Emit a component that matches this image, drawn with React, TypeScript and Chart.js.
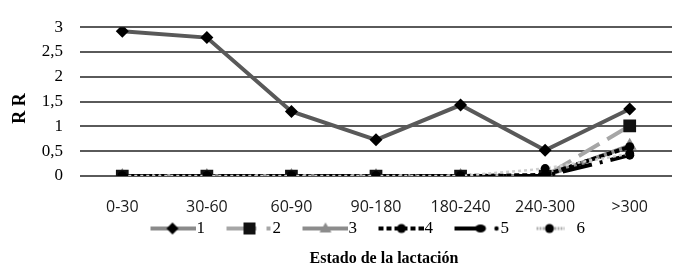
import React, { useEffect, useRef } from 'react';
import { Chart, registerables } from 'chart.js';

Chart.register(...registerables);

const categories = ['0-30', '30-60', '60-90', '90-180', '180-240', '240-300', '>300'];
const series1 = [2.92, 2.79, 1.3, 0.73, 1.43, 0.52, 1.35];
const series2 = [0, 0, 0, 0, 0, 0, 1.01];
const series3 = [0, 0, 0, 0, 0, 0, 0.61];
const series4 = [0, 0, 0, 0, 0, 0.02, 0.59];
const series5 = [0, 0, 0, 0, 0, 0, 0.42];
const series6 = [0, 0, 0, 0, 0, 0.15, 0.45];
const seriesNames = ['1', '2', '3', '4', '5', '6'];
const yMin = 0;
const yMax = 3;
const yStep = 0.5;
const xTitle = 'Estado de la lactación';
const yTitle = 'R R';

const SERIF = '"Liberation Serif", "Times New Roman", serif';
const BOX_W = 55;
const IMG_W = 70;
const SAMPLE_LEN = 45;

function makeSample(kind: number): HTMLCanvasElement {
  const c = document.createElement('canvas');
  c.width = IMG_W;
  c.height = 16;
  const g = c.getContext('2d')!;
  g.translate(IMG_W - SAMPLE_LEN, 0);
  const my = 8;
  g.lineWidth = 4;
  const line = (x0: number, x1: number, color: string, dash: number[] = [], w = 4) => {
    g.save();
    g.strokeStyle = color;
    g.lineWidth = w;
    g.setLineDash(dash);
    g.beginPath();
    g.moveTo(x0, my);
    g.lineTo(x1, my);
    g.stroke();
    g.restore();
  };
  const circle = (x: number, r: number, color = '#000') => {
    g.fillStyle = color;
    g.beginPath();
    g.arc(x, my, r, 0, Math.PI * 2);
    g.fill();
  };
  if (kind === 0) {
    line(0, 45, '#8a8a8a');
    g.fillStyle = '#000';
    g.beginPath();
    g.moveTo(22, my - 6);
    g.lineTo(28, my);
    g.lineTo(22, my + 6);
    g.lineTo(16, my);
    g.closePath();
    g.fill();
  } else if (kind === 1) {
    line(0, 30, '#a6a6a6');
    line(40, 44, '#a6a6a6');
    g.fillStyle = '#111';
    g.fillRect(17, my - 6, 12, 12);
  } else if (kind === 2) {
    line(0, 45, '#8c8c8c');
    g.fillStyle = '#8c8c8c';
    g.beginPath();
    g.moveTo(23, my - 6);
    g.lineTo(29, my + 4);
    g.lineTo(17, my + 4);
    g.closePath();
    g.fill();
  } else if (kind === 3) {
    line(0, 45, '#000', [5, 3]);
    circle(23, 4.5);
  } else if (kind === 4) {
    line(0, 27, '#000');
    g.fillStyle = '#000';
    g.beginPath();
    g.ellipse(26, my, 5.5, 4, 0, 0, Math.PI * 2);
    g.fill();
    circle(42, 2.2);
  } else {
    line(6, 14, '#b0b0b0', [2, 1], 3);
    line(24, 34, '#b0b0b0', [2, 1], 3);
    circle(19, 4.5);
  }
  return c;
}

const titlesPlugin = {
  id: 'axisTitles',
  afterDraw(chart: any) {
    const { ctx, chartArea } = chart;
    ctx.save();
    ctx.fillStyle = '#000';
    ctx.textAlign = 'center';
    ctx.textBaseline = 'middle';
    ctx.font = `bold 16px ${SERIF}`;
    ctx.fillText(xTitle, (chartArea.left + chartArea.right) / 2 + 8, chart.height - 11);
    ctx.translate(20, (chartArea.top + chartArea.bottom) / 2 + 7);
    ctx.rotate(-Math.PI / 2);
    ctx.font = `bold 18px ${SERIF}`;
    ctx.fillText(yTitle, 0, 0);
    ctx.restore();
  },
};

export default function App() {
  const ref = useRef<HTMLCanvasElement | null>(null);

  useEffect(() => {
    if (!ref.current) return;
    const samples = [0, 1, 2, 3, 4, 5].map(makeSample);

    const chart = new Chart(ref.current, {
      type: 'line',
      data: {
        labels: categories,
        datasets: [
          {
            label: seriesNames[0],
            data: series1,
            borderColor: '#595959',
            borderWidth: 4,
            pointStyle: 'rectRot',
            pointRadius: 6.5,
            pointBackgroundColor: '#000',
            pointBorderColor: '#000',
            pointBorderWidth: 0,
            order: 0,
          },
          {
            label: seriesNames[1],
            data: series2,
            borderColor: '#a6a6a6',
            borderWidth: 4,
            borderDash: [24, 9],
            pointStyle: 'rect',
            pointRadius: 9,
            pointBackgroundColor: '#111',
            pointBorderColor: '#111',
            pointBorderWidth: 0,
            order: 4,
          },
          {
            label: seriesNames[2],
            data: series3,
            borderColor: '#8c8c8c',
            borderWidth: 4,
            pointStyle: 'triangle',
            pointRadius: 8,
            pointBackgroundColor: '#8c8c8c',
            pointBorderColor: '#8c8c8c',
            pointBorderWidth: 0,
            order: 5,
          },
          {
            label: seriesNames[3],
            data: series4,
            borderColor: '#000',
            borderWidth: 4,
            borderDash: [5, 3],
            pointStyle: 'circle',
            pointRadius: 4.5,
            pointBackgroundColor: '#000',
            pointBorderColor: '#000',
            pointBorderWidth: 0,
            order: 3,
          },
          {
            label: seriesNames[4],
            data: series5,
            borderColor: '#000',
            borderWidth: 4,
            borderDash: [30, 8, 3, 8],
            pointStyle: 'circle',
            pointRadius: 4.5,
            pointBackgroundColor: '#000',
            pointBorderColor: '#000',
            pointBorderWidth: 0,
            order: 2,
          },
          {
            label: seriesNames[5],
            data: series6,
            borderColor: '#d0d0d0',
            borderWidth: 2.5,
            borderDash: [3, 3],
            pointStyle: 'circle',
            pointRadius: 4.5,
            pointBackgroundColor: '#000',
            pointBorderColor: '#000',
            pointBorderWidth: 0,
            order: 1,
          },
        ],
      },
      options: {
        responsive: false,
        animation: false,
        devicePixelRatio: 1,
        layout: { padding: { top: 15, right: 7, bottom: 23, left: 0 } },
        elements: { line: { tension: 0, borderCapStyle: 'butt' } },
        plugins: {
          tooltip: { enabled: false },
          title: { display: false },
          legend: {
            display: true,
            position: 'bottom',
            fullSize: false,
            labels: {
              usePointStyle: true,
              pointStyleWidth: BOX_W,
              padding: 4,
              color: '#000',
              font: { family: SERIF, size: 17 },
              generateLabels: () =>
                seriesNames.map((name, i) => ({
                  text: i === seriesNames.length - 1 ? name + '\u2003\u2003' : name,
                  pointStyle: samples[i],
                  fillStyle: '#000',
                  strokeStyle: '#000',
                  lineWidth: 0,
                  hidden: false,
                  datasetIndex: i,
                  fontColor: '#000',
                })),
            },
          },
        },
        scales: {
          x: {
            type: 'category',
            offset: true,
            grid: { display: false, drawTicks: false },
            border: { display: false },
            ticks: {
              padding: 22,
              color: '#1a1a1a',
              font: { family: '"Open Sans", sans-serif', size: 16 },
              maxRotation: 0,
              autoSkip: false,
            },
            afterFit: (scale: any) => {
              scale.height = 40;
            },
          },
          y: {
            min: yMin,
            max: yMax,
            grid: { color: '#5a5a5a', lineWidth: 2, drawTicks: false },
            border: { display: false },
            ticks: {
              stepSize: yStep,
              padding: 17,
              color: '#000',
              font: { family: SERIF, size: 17 },
              callback: (v: any) => String(v).replace('.', ','),
            },
            afterFit: (scale: any) => {
              scale.width = 80;
            },
          },
        },
      },
      plugins: [titlesPlugin],
    });

    return () => chart.destroy();
  }, []);

  return (
    <div style={{ position: 'fixed', left: 0, top: 0, width: 681, height: 270, background: '#fff' }}>
      <canvas ref={ref} width={681} height={270} style={{ display: 'block' }} />
    </div>
  );
}
